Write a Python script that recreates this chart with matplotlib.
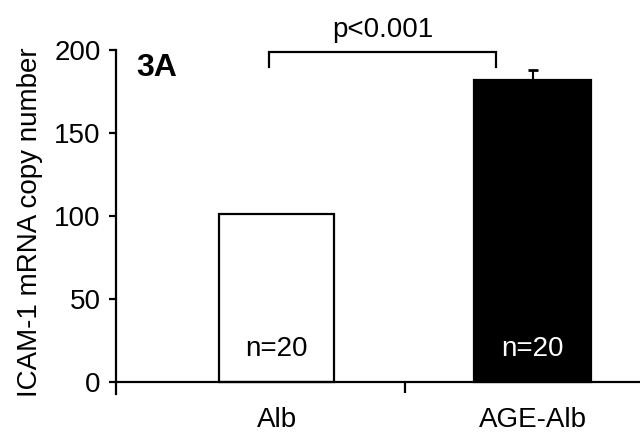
import matplotlib
matplotlib.use('Agg')
import matplotlib.pyplot as plt

# data
groups = ['Alb', 'AGE-Alb']
copy_number = [101, 182]
sem_up = [0, 6]
n_labels = ['n=20', 'n=20']
p_text = 'p<0.001'
y_ticks = [0, 50, 100, 150, 200]

plt.rcParams['font.family'] = ['Liberation Sans', 'DejaVu Sans']

fig = plt.figure(figsize=(6.4, 4.33), dpi=100)
ax = fig.add_axes([0.181, 0.091, 0.819, 0.7935])

xpos = [0, 1]
ax.bar(xpos[0], copy_number[0], width=0.45, color='white', edgecolor='black', linewidth=1.6)
ax.bar(xpos[1], copy_number[1], width=0.46, color='black', edgecolor='black', linewidth=1.6)
ax.errorbar(xpos[1], copy_number[1], yerr=[[0], [sem_up[1]]], fmt='none',
            ecolor='black', elinewidth=1.5, capsize=3.5, capthick=2)

# n labels inside bars
ax.text(xpos[0], 20, n_labels[0], ha='center', va='center', fontsize=20, color='black')
ax.text(xpos[1], 20, n_labels[1], ha='center', va='center', fontsize=20, color='white')

# significance bracket
bl, br, btop, bdrop = -0.03, 0.855, 199, 190
ax.plot([bl, bl, br, br], [bdrop, btop, btop, bdrop], color='black', lw=1.6,
        clip_on=False, solid_joinstyle='miter')
ax.text((bl + br) / 2, 204, p_text, ha='center', va='bottom', fontsize=20)

# panel label
ax.text(-0.55, 189, '3A', ha='left', va='center', fontsize=23, fontweight='bold')

# axes
ax.set_xlim(-0.63, 1.42)
ax.set_ylim(-7, 200)
ax.spines['top'].set_visible(False)
ax.spines['right'].set_visible(False)
ax.spines['bottom'].set_position(('data', 0))
ax.spines['left'].set_linewidth(1.6)
ax.spines['bottom'].set_linewidth(1.6)

ax.set_yticks(y_ticks)
ax.tick_params(axis='y', labelsize=20, length=5, width=1.6, pad=6)

ax.set_xticks([0.5])
ax.set_xticklabels([''])
ax.set_xticks(xpos, minor=True)
ax.set_xticklabels(groups, minor=True)
ax.tick_params(axis='x', which='major', length=8, width=1.6, direction='out')
ax.tick_params(axis='x', which='minor', length=0, labelsize=20, pad=18)

ax.set_ylabel('ICAM-1 mRNA copy number', fontsize=20, labelpad=8)

fig.savefig('out.png', dpi=100)
